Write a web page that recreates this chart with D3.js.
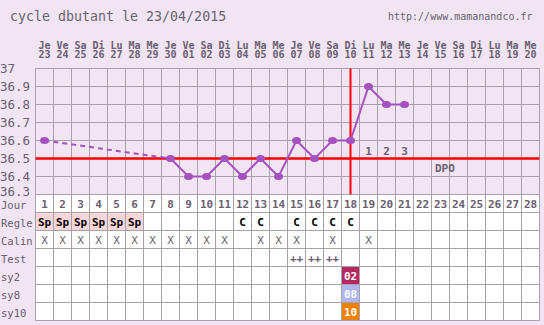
<!DOCTYPE html>
<html>
<head>
<meta charset="utf-8">
<script src="https://cdn.jsdelivr.net/npm/d3@7"></script>
<style>
    html, body { margin: 0; padding: 0; background: #f1e4f3; }
    svg { display: block; }
    text { font-family: "DejaVu Sans Mono", monospace; }
</style>
</head>
<body>
<svg id="chart" width="544" height="325"></svg>
<script>
// jours du cycle (1..28), date de début 23/04/2015
const days = d3.range(1, 29);
const dayNames = ['Je','Ve','Sa','Di','Lu','Ma','Me','Je','Ve','Sa','Di','Lu','Ma','Me',
                  'Je','Ve','Sa','Di','Lu','Ma','Me','Je','Ve','Sa','Di','Lu','Ma','Me'];
const dayNums = ['23','24','25','26','27','28','29','30','01','02','03','04','05','06',
                 '07','08','09','10','11','12','13','14','15','16','17','18','19','20'];

// températures (null = pas de relevé)
const temps = [36.6, null, null, null, null, null, null, 36.5, 36.4, 36.4, 36.5, 36.4, 36.5, 36.4,
               36.6, 36.5, 36.6, 36.6, 36.9, 36.8, 36.8];
const yTicks = [37, 36.9, 36.8, 36.7, 36.6, 36.5, 36.4, 36.3];
const coverline = 36.5;
const ovulationDay = 18;
const dpoDays = [19, 20, 21];

const rowNames = ['Jour', 'Regle', 'Calin', 'Test', 'sy2', 'sy8', 'sy10'];
const regleDays = [1, 2, 3, 4, 5, 6];
const regle = { 1: 'Sp', 2: 'Sp', 3: 'Sp', 4: 'Sp', 5: 'Sp', 6: 'Sp', 12: 'C', 13: 'C', 15: 'C', 16: 'C', 17: 'C', 18: 'C' };
const calin = [1, 2, 3, 4, 5, 6, 7, 8, 9, 10, 11, 13, 14, 15, 17, 19];
const tests = [15, 16, 17];
const sy2 = { 18: '02' };
const sy8 = { 18: '08' };
const sy10 = { 18: '10' };

const GRID = '#a9a1a9';
const LABEL = '#6a6070';
const PURPLE = '#a552c0';
const RED = '#ff0000';

const svg = d3.select('#chart');

const x = d3.scaleLinear().domain([0.5, 28.5]).range([35.5, 539.5]);
const y = d3.scaleLinear().domain([36.3, 37]).range([194.5, 68.5]);
const row = d3.scaleBand().domain(rowNames).range([194.5, 320.5]);
const colW = x(1.5) - x(0.5);

// titre
svg.append('text')
    .attr('x', 10).attr('y', 21)
    .attr('font-size', 13.3)
    .attr('fill', '#6a6470')
    .text('cycle dbutant le 23/04/2015');

svg.append('text')
    .attr('x', 388).attr('y', 20)
    .attr('font-size', 10)
    .attr('fill', '#6a6470')
    .text('http://www.mamanandco.fr');

// en-tête des dates
const header = svg.append('g')
    .attr('font-size', 10)
    .attr('font-weight', 'bold')
    .attr('fill', LABEL)
    .attr('text-anchor', 'middle');

header.selectAll('text.name')
    .data(days)
    .enter()
    .append('text')
    .attr('class', 'name')
    .attr('x', d => x(d))
    .attr('y', 48.5)
    .text(d => dayNames[d - 1]);

header.selectAll('text.num')
    .data(days)
    .enter()
    .append('text')
    .attr('class', 'num')
    .attr('x', d => x(d))
    .attr('y', 58)
    .text(d => dayNums[d - 1]);

// table (fond blanc)
svg.append('rect')
    .attr('x', x(0.5)).attr('y', row.range()[0])
    .attr('width', x(28.5) - x(0.5))
    .attr('height', row.range()[1] - row.range()[0])
    .attr('fill', '#ffffff');

// cellules colorées
svg.append('g')
    .selectAll('rect')
    .data(regleDays)
    .enter()
    .append('rect')
    .attr('x', d => x(d - 0.5))
    .attr('y', row('Regle'))
    .attr('width', colW)
    .attr('height', row.bandwidth())
    .attr('fill', '#f7d6da');

[['sy2', sy2, '#b5285f'], ['sy8', sy8, '#b1b6ee'], ['sy10', sy10, '#f28100']].forEach(([name, obj, color]) => {
    svg.append('g')
        .selectAll('rect')
        .data(Object.keys(obj).map(Number))
        .enter()
        .append('rect')
        .attr('x', d => x(d - 0.5))
        .attr('y', row(name))
        .attr('width', colW)
        .attr('height', row.bandwidth())
        .attr('fill', color);
});

// grille
const grid = svg.append('g')
    .attr('stroke', GRID)
    .attr('stroke-width', 1);

grid.selectAll('line.v')
    .data(d3.range(0.5, 29.5, 1))
    .enter()
    .append('line')
    .attr('x1', d => x(d)).attr('x2', d => x(d))
    .attr('y1', y(37)).attr('y2', row.range()[1]);

grid.selectAll('line.h')
    .data(yTicks)
    .enter()
    .append('line')
    .attr('x1', x(0.5)).attr('x2', x(28.5))
    .attr('y1', d => y(d)).attr('y2', d => y(d));

grid.selectAll('line.r')
    .data(rowNames.slice(1).map(r => row(r)).concat([row.range()[1]]))
    .enter()
    .append('line')
    .attr('x1', x(0.5)).attr('x2', x(28.5))
    .attr('y1', d => d).attr('y2', d => d);

// axe Y
svg.append('g')
    .attr('font-size', 12.5)
    .attr('fill', LABEL)
    .selectAll('text')
    .data(yTicks)
    .enter()
    .append('text')
    .attr('x', 0)
    .attr('y', d => y(d) + (d === 36.3 ? 1 : 4))
    .text(d => d === 37 ? '37' : d.toFixed(1));

// libellés des lignes
svg.append('g')
    .attr('font-size', 10.5)
    .attr('fill', LABEL)
    .selectAll('text')
    .data(rowNames)
    .enter()
    .append('text')
    .attr('x', 1)
    .attr('y', d => row(d) + row.bandwidth() / 2 + 5.5)
    .text(d => d);

// contenu de la table
const cy = name => row(name) + row.bandwidth() / 2 + 4;

svg.append('g')
    .attr('font-size', 11)
    .attr('font-weight', 'bold')
    .attr('fill', LABEL)
    .attr('text-anchor', 'middle')
    .selectAll('text')
    .data(days)
    .enter()
    .append('text')
    .attr('x', d => x(d))
    .attr('y', cy('Jour'))
    .text(d => d);

svg.append('g')
    .attr('font-size', 11)
    .attr('font-weight', 'bold')
    .attr('fill', '#000000')
    .attr('text-anchor', 'middle')
    .selectAll('text')
    .data(Object.keys(regle).map(Number))
    .enter()
    .append('text')
    .attr('x', d => x(d))
    .attr('y', cy('Regle'))
    .text(d => regle[d]);

svg.append('g')
    .attr('font-size', 11)
    .attr('fill', LABEL)
    .attr('text-anchor', 'middle')
    .selectAll('text')
    .data(calin)
    .enter()
    .append('text')
    .attr('x', d => x(d))
    .attr('y', cy('Calin'))
    .text('X');

svg.append('g')
    .attr('font-size', 11)
    .attr('font-weight', 'bold')
    .attr('fill', LABEL)
    .attr('text-anchor', 'middle')
    .selectAll('text')
    .data(tests)
    .enter()
    .append('text')
    .attr('x', d => x(d))
    .attr('y', cy('Test'))
    .text('++');

[['sy2', sy2], ['sy8', sy8], ['sy10', sy10]].forEach(([name, obj]) => {
    svg.append('g')
        .attr('font-size', 11)
        .attr('font-weight', 'bold')
        .attr('fill', '#ffffff')
        .attr('text-anchor', 'middle')
        .selectAll('text')
        .data(Object.keys(obj).map(Number))
        .enter()
        .append('text')
        .attr('x', d => x(d))
        .attr('y', cy(name))
        .text(d => obj[d]);
});

// ligne de couverture et ovulation
svg.append('line')
    .attr('x1', x(0.5)).attr('x2', x(28.5))
    .attr('y1', y(coverline)).attr('y2', y(coverline))
    .attr('stroke', RED)
    .attr('stroke-width', 2.5);

svg.append('line')
    .attr('x1', x(ovulationDay)).attr('x2', x(ovulationDay))
    .attr('y1', y(37)).attr('y2', y(36.3))
    .attr('stroke', RED)
    .attr('stroke-width', 2);

// DPO
svg.append('g')
    .attr('font-size', 11)
    .attr('font-weight', 'bold')
    .attr('fill', LABEL)
    .attr('text-anchor', 'middle')
    .selectAll('text')
    .data(dpoDays)
    .enter()
    .append('text')
    .attr('x', d => x(d))
    .attr('y', y(coverline) - 4)
    .text((d, i) => i + 1);

svg.append('text')
    .attr('x', 435)
    .attr('y', y(36.45) + 4)
    .attr('font-size', 11)
    .attr('font-weight', 'bold')
    .attr('fill', LABEL)
    .text('DPO');

// courbe des températures
const points = temps
    .map((t, i) => ({ day: i + 1, t }))
    .filter(d => d.t !== null);

const line = d3.line()
    .x(d => x(d.day))
    .y(d => y(d.t));

// segments : pointillés s'il manque des jours entre deux relevés
const segments = d3.pairs(points);

svg.append('g')
    .attr('stroke', PURPLE)
    .attr('stroke-width', 2)
    .attr('fill', 'none')
    .selectAll('path')
    .data(segments)
    .enter()
    .append('path')
    .attr('d', d => line(d))
    .attr('stroke-dasharray', d => d[1].day - d[0].day > 1 ? '5,4' : null);

svg.append('g')
    .attr('fill', PURPLE)
    .selectAll('ellipse')
    .data(points)
    .enter()
    .append('ellipse')
    .attr('cx', d => x(d.day))
    .attr('cy', d => y(d.t))
    .attr('rx', 4.5)
    .attr('ry', 3.5);
</script>
</body>
</html>
